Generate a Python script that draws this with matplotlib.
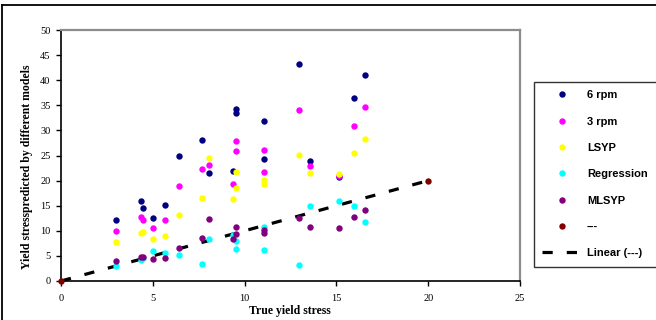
import numpy as np
import matplotlib
matplotlib.use('Agg')
import matplotlib.pyplot as plt
from matplotlib.lines import Line2D

# data
rpm6_x = [3.0, 4.36, 4.48, 5.0, 5.66, 6.43, 7.66, 8.08, 9.35, 9.53, 9.53,
          11.07, 11.07, 12.96, 13.56, 15.16, 15.98, 16.56]
rpm6_y = [12.1, 16.0, 14.5, 12.5, 15.1, 25.0, 28.1, 21.6, 22.0, 34.2, 33.5,
          31.9, 24.3, 43.2, 24.0, 20.7, 36.5, 41.0]

rpm3_x = [3.0, 4.36, 4.48, 5.0, 5.66, 6.43, 7.66, 8.08, 9.35, 9.53, 9.53,
          11.07, 11.07, 12.96, 13.56, 15.16, 15.98, 16.56]
rpm3_y = [10.0, 12.8, 12.1, 10.6, 12.15, 19.0, 22.4, 23.2, 19.3, 27.9, 25.9,
          26.1, 21.8, 34.1, 22.9, 20.9, 30.9, 34.7]

lsyp_x = [3.0, 4.36, 4.48, 5.0, 5.66, 6.43, 7.66, 8.08, 9.35, 9.53, 9.53,
          11.07, 11.07, 12.96, 13.56, 15.16, 15.98, 16.56]
lsyp_y = [7.8, 9.6, 9.8, 8.4, 9.0, 13.2, 16.6, 24.6, 16.4, 21.8, 18.6,
          20.1, 19.3, 25.1, 21.6, 21.25, 25.4, 28.3]

regr_x = [3.0, 4.36, 4.48, 5.0, 5.66, 6.43, 7.66, 8.08, 9.35, 9.53, 9.53,
          11.07, 11.07, 12.96, 13.56, 15.16, 15.98, 16.56]
regr_y = [3.0, 4.2, 4.6, 5.9, 5.65, 5.2, 3.4, 8.4, 9.2, 8.0, 6.3,
          10.7, 6.1, 3.1, 14.9, 16.0, 14.9, 11.7]

mlsyp_x = [3.0, 4.36, 4.48, 5.0, 5.66, 6.43, 7.66, 8.08, 9.35, 9.53, 9.53,
           11.07, 11.07, 12.96, 13.56, 15.16, 15.98, 16.56]
mlsyp_y = [3.9, 4.8, 4.8, 4.4, 4.5, 6.5, 8.5, 12.3, 8.3, 10.8, 9.3,
           10.2, 9.5, 12.5, 10.8, 10.6, 12.75, 14.2]

ref_x = [0, 20]
ref_y = [0, 20]

series = [
    (rpm6_x, rpm6_y, '#000080', '6 rpm'),
    (rpm3_x, rpm3_y, '#FF00FF', '3 rpm'),
    (lsyp_x, lsyp_y, '#FFFF00', 'LSYP'),
    (regr_x, regr_y, '#00FFFF', 'Regression'),
    (mlsyp_x, mlsyp_y, '#800080', 'MLSYP'),
    (ref_x, ref_y, '#800000', '---'),
]

W, H = 656, 320
fig = plt.figure(figsize=(W / 100, H / 100), dpi=100)
ax = fig.add_axes([61 / W, 1 - 281 / H, (520 - 61) / W, (281 - 30) / H])

handles = []
for xs, ys, col, lab in series:
    ax.plot(xs, ys, linestyle='none', marker='o', ms=4.6, mfc=col,
            mec='none', clip_on=False, zorder=3)
    handles.append(Line2D([], [], linestyle='none', marker='o', ms=4.6,
                          mfc=col, mec='none', label=lab))

# linear trendline of the '---' series
k, b = np.polyfit(ref_x, ref_y, 1)
tx = np.array([min(ref_x), max(ref_x)])
ax.plot(tx, k * tx + b, color='black', lw=2.3, dashes=(3.2, 4.4),
        zorder=2, clip_on=False)
handles.append(Line2D([], [], color='black', lw=2.3, dashes=(3.2, 4.4),
                      label='Linear (---)'))

ax.set_xlim(0, 25)
ax.set_ylim(0, 50)
ax.set_xticks(range(0, 26, 5))
ax.set_yticks(range(0, 51, 5))
ax.tick_params(direction='out', length=3.5, width=1, labelsize=7.5,
               colors='black', pad=2)
for lbl in ax.get_xticklabels() + ax.get_yticklabels():
    lbl.set_family('Liberation Serif')
ax.tick_params(axis='x', pad=6)
ax.tick_params(axis='y', pad=4)

for side in ['left', 'bottom']:
    ax.spines[side].set_color('black')
    ax.spines[side].set_linewidth(1.2)
for side in ['top', 'right']:
    ax.spines[side].set_color('#8c8c8c')
    ax.spines[side].set_linewidth(1.6)

fig.text(290 / W, 1 - 311 / H, 'True yield stress', ha='center',
         va='center', family='Liberation Serif', weight='bold', fontsize=8.5)
fig.text(27 / W, 1 - 167 / H, 'Yield stresspredicted by different models',
         ha='center', va='center', rotation=90, family='Liberation Serif',
         weight='bold', fontsize=8.5)

leg = fig.legend(handles=handles, loc='upper left',
                 bbox_to_anchor=(534 / W, 1 - 267 / H, (680 - 534) / W,
                                 (267 - 82) / H),
                 mode='expand', frameon=True, fancybox=False,
                 prop={'family': 'Liberation Sans', 'weight': 'bold',
                       'size': 8},
                 handlelength=3.6, handletextpad=0.4, borderpad=0.75,
                 labelspacing=1.47, borderaxespad=0)
leg.get_frame().set_edgecolor('black')
leg.get_frame().set_linewidth(1.0)

# outer chart border
fig.add_artist(Line2D([2 / W, 2 / W], [0, 1 - 5 / H], color='black',
                      lw=1.3, transform=fig.transFigure))
fig.add_artist(Line2D([2 / W, 1], [1 - 5 / H, 1 - 5 / H], color='black',
                      lw=1.3, transform=fig.transFigure))

fig.savefig('out.png', dpi=100)
